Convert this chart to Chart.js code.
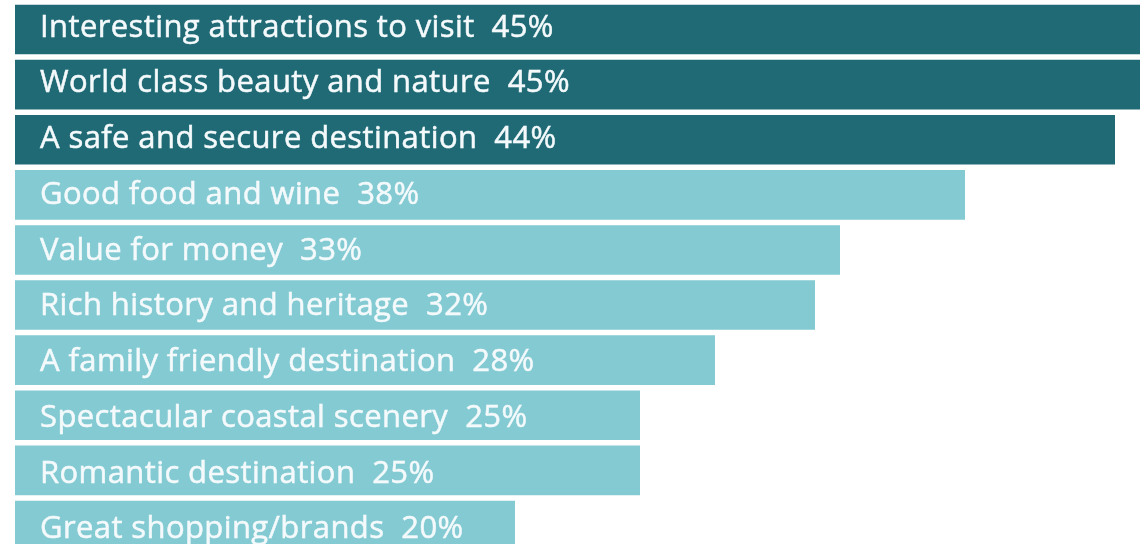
<!DOCTYPE html>
<html>
<head>
<meta charset="utf-8">
<title>Destination attributes</title>
<script src="https://cdn.jsdelivr.net/npm/chart.js@4.4.1/dist/chart.umd.min.js"></script>
<style>
  html, body { margin: 0; padding: 0; background: #fff; overflow: hidden; }
  #wrap { width: 1145px; height: 555px; position: relative; }
</style>
</head>
<body>
<div id="wrap"><canvas id="chart"></canvas></div>
<script>
// attributes, top to bottom
const attributes = [
  "Interesting attractions to visit",
  "World class beauty and nature",
  "A safe and secure destination",
  "Good food and wine",
  "Value for money",
  "Rich history and heritage",
  "A family friendly destination",
  "Spectacular coastal scenery",
  "Romantic destination",
  "Great shopping/brands"
];
// share of respondents, %
const shares = [45, 45, 44, 38, 33, 32, 28, 25, 25, 20];
// top three are highlighted in the dark colour
const highlighted = [true, true, true, false, false, false, false, false, false, false];

const DARK = "#206a76";
const LIGHT = "#84cad3";

// writes "name  xx%" inside each bar
const barText = {
  id: "barText",
  afterDatasetsDraw(chart) {
    const ctx = chart.ctx;
    const meta = chart.getDatasetMeta(0);
    ctx.save();
    ctx.font = "31px 'Open Sans'";
    if ("letterSpacing" in ctx) ctx.letterSpacing = "0.4px";
    ctx.fillStyle = "#f4fafb";
    ctx.strokeStyle = "#f4fafb";
    ctx.lineWidth = 0.5;
    ctx.textBaseline = "alphabetic";
    ctx.textAlign = "left";
    meta.data.forEach((bar, i) => {
      const txt = attributes[i] + "  " + shares[i] + "%";
      // text sits a touch lower in the lower rows
      const y = bar.y + 7 + i * 0.65;
      ctx.fillText(txt, bar.base + 25, y);
      ctx.strokeText(txt, bar.base + 25, y);
    });
    ctx.restore();
  }
};

new Chart(document.getElementById("chart"), {
  type: "bar",
  data: {
    labels: attributes,
    datasets: [{
      data: shares,
      backgroundColor: highlighted.map(h => h ? DARK : LIGHT),
      borderWidth: 0,
      categoryPercentage: 1,
      barPercentage: 0.9
    }]
  },
  options: {
    indexAxis: "y",
    responsive: true,
    maintainAspectRatio: false,
    animation: false,
    layout: { padding: { top: 2, bottom: 2, left: 15, right: 0 } },
    plugins: {
      legend: { display: false },
      tooltip: { enabled: false }
    },
    scales: {
      x: { display: false, min: 0, max: 45.2 },
      y: { display: false }
    }
  },
  plugins: [barText]
});
</script>
</body>
</html>
